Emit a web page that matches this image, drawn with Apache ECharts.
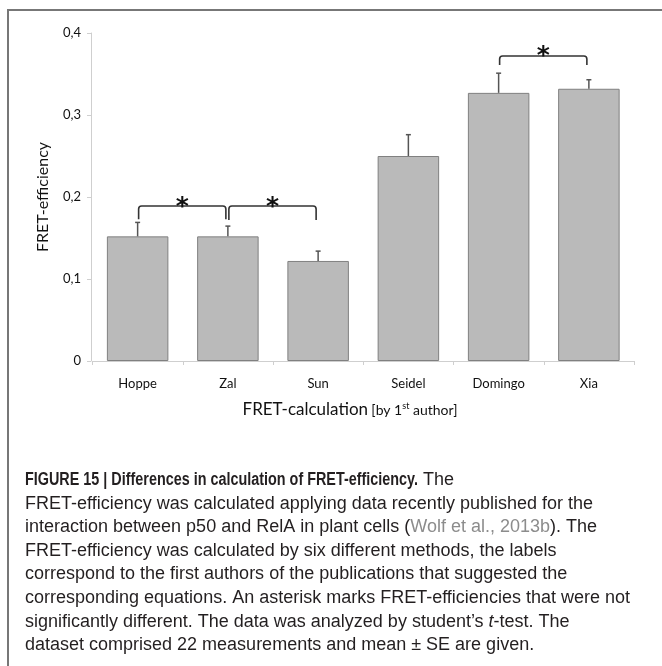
<!DOCTYPE html>
<html>
<head>
<meta charset="utf-8">
<script src="https://cdn.jsdelivr.net/npm/echarts@6/dist/echarts.min.js"></script>
<style>
  html, body { margin: 0; padding: 0; background: #fff; }
  #chart { width: 662px; height: 666px; }
</style>
</head>
<body>
<div id="chart"></div>
<script>
// FRET-efficiency per calculation method (named by first author), mean ± SE
const categories = ['Hoppe', 'Zal', 'Sun', 'Seidel', 'Domingo', 'Xia'];
const efficiency = [0.152, 0.152, 0.122, 0.250, 0.327, 0.332];
const standardError = [0.017, 0.0125, 0.012, 0.026, 0.024, 0.011];

// y-axis range and step
const yMin = 0;
const yMax = 0.4;
const yStep = 0.1;

// significance brackets: [from category, to category, bracket height, leg end]
const brackets = [
  [0, 1, 0.189, 0.173],
  [1, 2, 0.189, 0.172],
  [4, 5, 0.372, 0.361]
];

// figure caption: bold heading, then the printed lines
const captionHeading = 'FIGURE 15 | Differences in calculation of FRET-efficiency.';
const captionLines = [
  ' The',
  'FRET-efficiency was calculated applying data recently published for the',
  'interaction between p50 and RelA in plant cells ({g|Wolf et al., 2013b}). The',
  'FRET-efficiency was calculated by six different methods, the labels',
  'correspond to the first authors of the publications that suggested the',
  'corresponding equations. An asterisk marks FRET-efficiencies that were not',
  'significantly different. The data was analyzed by student\u2019s {i|t}-test. The',
  'dataset comprised 22 measurements and mean \u00b1 SE are given.'
];

const chartFont = 'Lato, "Open Sans", sans-serif';
const captionFont = '"Liberation Sans", Arial, sans-serif';

const chart = echarts.init(document.getElementById('chart'), null, { renderer: 'canvas' });

const errorData = efficiency.map((v, i) => [i, v, standardError[i]]);

// the heading is set in a condensed bold: squeeze a regular bold face to width
const headingFontSpec = 'bold 18px ' + captionFont;
const headingTargetWidth = 393;
const measureCtx = document.createElement('canvas').getContext('2d');
measureCtx.font = headingFontSpec;
const headingScale = headingTargetWidth / measureCtx.measureText(captionHeading).width;

const captionLeft = 25;
const captionTop = 480;
const captionStep = 23.6;

const captionGraphics = [
  {
    type: 'text',
    x: captionLeft,
    y: captionTop,
    scaleX: headingScale,
    style: {
      text: captionHeading,
      fill: '#231f20',
      font: headingFontSpec,
      verticalAlign: 'middle'
    }
  }
].concat(captionLines.map((line, i) => ({
  type: 'text',
  x: i === 0 ? captionLeft + headingTargetWidth : captionLeft,
  y: captionTop + i * captionStep,
  style: {
    text: line,
    fill: '#231f20',
    font: '18px ' + captionFont,
    verticalAlign: 'middle',
    rich: {
      g: { font: '18px ' + captionFont, fill: '#8c8c8c' },
      i: { font: 'italic 18px ' + captionFont, fill: '#231f20' }
    }
  }
})));

const option = {
  backgroundColor: '#ffffff',
  animation: false,
  grid: { left: 92.5, right: 28, top: 33, bottom: 305, containLabel: false },
  xAxis: {
    type: 'category',
    data: categories,
    axisLine: { lineStyle: { color: '#cfcfcf', width: 1 } },
    axisTick: { show: true, length: 4, lineStyle: { color: '#cfcfcf' } },
    axisLabel: { margin: 16, color: '#111', fontFamily: chartFont, fontSize: 13 }
  },
  yAxis: {
    type: 'value',
    min: yMin,
    max: yMax,
    interval: yStep,
    offset: 1.5,
    name: 'FRET-efficiency',
    nameLocation: 'middle',
    nameGap: 40,
    nameTextStyle: { color: '#111', fontFamily: chartFont, fontSize: 16 },
    axisLine: { show: true, lineStyle: { color: '#cfcfcf', width: 1 } },
    axisTick: { show: true, length: 4, lineStyle: { color: '#cfcfcf' } },
    splitLine: { show: false },
    axisLabel: {
      margin: 10,
      color: '#111',
      fontFamily: chartFont,
      fontSize: 13,
      formatter: v => (v === 0 ? '0' : v.toFixed(1).replace('.', ','))
    }
  },
  series: [
    {
      type: 'bar',
      data: efficiency,
      barWidth: 61.5,
      itemStyle: { color: '#bababa', borderColor: '#808080', borderWidth: 1 },
      z: 2
    },
    {
      // error bars (mean + SE)
      type: 'custom',
      data: errorData,
      z: 3,
      renderItem: (params, api) => {
        const idx = api.value(0);
        const mean = api.value(1);
        const se = api.value(2);
        const base = api.coord([idx, mean]);
        const top = api.coord([idx, mean + se]);
        const style = { stroke: '#555', lineWidth: 1.5 };
        return {
          type: 'group',
          children: [
            { type: 'line', shape: { x1: base[0], y1: base[1], x2: top[0], y2: top[1] }, style },
            { type: 'line', shape: { x1: top[0] - 2.5, y1: top[1], x2: top[0] + 2.5, y2: top[1] }, style }
          ]
        };
      }
    },
    {
      // significance brackets with asterisks
      type: 'custom',
      data: brackets,
      z: 4,
      renderItem: (params, api) => {
        const from = api.coord([api.value(0), api.value(2)]);
        const to = api.coord([api.value(1), api.value(2)]);
        const legY = api.coord([api.value(0), api.value(3)])[1];
        const x1 = from[0] + 1;
        const x2 = to[0] - 2;
        const y = from[1];
        const r = 3;
        const path = 'M' + x1 + ' ' + legY + ' L' + x1 + ' ' + (y + r) +
          ' Q' + x1 + ' ' + y + ' ' + (x1 + r) + ' ' + y +
          ' L' + (x2 - r) + ' ' + y + ' Q' + x2 + ' ' + y + ' ' + x2 + ' ' + (y + r) +
          ' L' + x2 + ' ' + legY;
        return {
          type: 'group',
          children: [
            { type: 'path', shape: { pathData: path }, style: { stroke: '#333', lineWidth: 1.6, fill: null } },
            {
              type: 'text',
              style: {
                text: '*',
                x: (x1 + x2) / 2,
                y: y + 1,
                align: 'center',
                verticalAlign: 'middle',
                font: 'bold 25px "DejaVu Sans", sans-serif',
                fill: '#111'
              }
            }
          ]
        };
      }
    }
  ],
  graphic: [
    {
      type: 'polyline',
      shape: { points: [[8, 666], [8, 10], [662, 10]] },
      style: { stroke: '#777', lineWidth: 2, fill: null },
      silent: true
    },
    {
      type: 'text',
      x: 350,
      y: 410,
      style: {
        text: '{a|FRET-calculation} {c|[by 1}{s|st}{c| author]}',
        align: 'center',
        verticalAlign: 'middle',
        rich: {
          a: { font: '17px ' + chartFont, fill: '#111' },
          c: { font: '14px ' + chartFont, fill: '#111' },
          s: { font: '9px ' + chartFont, fill: '#111', verticalAlign: 'top', padding: [0, 0, 6, 0] }
        }
      }
    },
    ...captionGraphics
  ]
};

chart.setOption(option);
</script>
</body>
</html>
